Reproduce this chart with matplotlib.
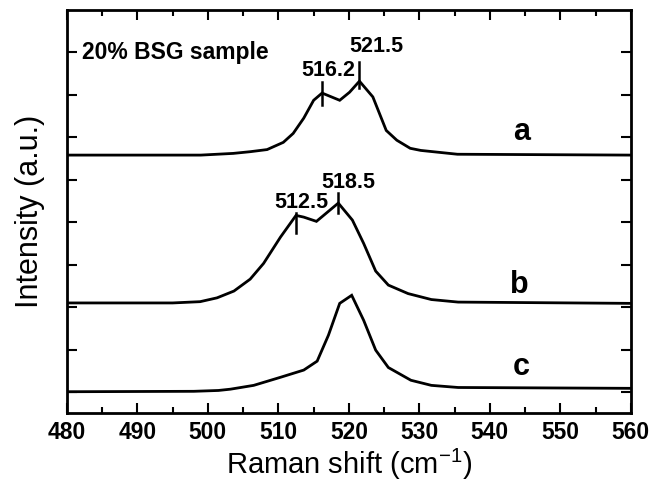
#!/usr/bin/env python3

"""
Raman spectra of the 20% BSG sample (curves a, b, c).
"""

import matplotlib
matplotlib.use("Agg")
import matplotlib.pyplot as plt
from matplotlib.ticker import MultipleLocator

# curve a (top)
shift_a = [480, 499.0, 503.6, 506.0, 508.4, 510.7, 512.1, 513.6, 515.0, 516.2,
           518.7, 520.1, 521.5, 523.4, 525.3, 526.8, 528.7, 530.2, 535.4, 560]
int_a = [5.58, 5.58, 5.62, 5.66, 5.71, 5.88, 6.09, 6.45, 6.87, 7.04,
         6.87, 7.06, 7.32, 6.95, 6.16, 5.93, 5.74, 5.69, 5.60, 5.58]

# curve b (middle)
shift_b = [480, 495.0, 498.9, 501.3, 503.7, 506.0, 507.9, 510.3, 512.5, 513.6,
           515.4, 518.5, 520.5, 522.1, 523.8, 525.6, 528.4, 531.7, 535.5, 560]
int_b = [2.10, 2.10, 2.13, 2.22, 2.38, 2.66, 3.03, 3.65, 4.16, 4.12,
         4.02, 4.45, 4.05, 3.50, 2.85, 2.52, 2.32, 2.18, 2.12, 2.09]

# curve c (bottom)
shift_c = [480, 498.0, 501.5, 503.2, 506.5, 510.3, 513.6, 515.5, 517.1, 518.7,
           520.4, 522.1, 523.8, 525.6, 528.8, 531.7, 535.5, 560]
int_c = [0.01, 0.02, 0.04, 0.07, 0.16, 0.35, 0.52, 0.73, 1.34, 2.09,
         2.28, 1.69, 0.99, 0.58, 0.28, 0.16, 0.11, 0.09]

# peak annotations: (position, marker bottom, marker top, label x, label y)
peak_pos = [516.2, 521.5, 512.5, 518.5]
peak_lo = [6.75, 7.15, 3.74, 4.21]
peak_hi = [7.29, 7.76, 4.21, 4.68]
peak_text_x = [517.1, 523.9, 513.2, 519.9]
peak_text_y = [7.58, 8.14, 4.47, 4.94]

curve_names = ["a", "b", "c"]
name_x = [544.5, 544.2, 544.5]
name_y = [6.12, 2.52, 0.59]


def main():
    plt.rcParams["font.family"] = ["Liberation Sans", "DejaVu Sans"]
    plt.rcParams["mathtext.fontset"] = "custom"
    plt.rcParams["mathtext.rm"] = "Liberation Sans"

    fig = plt.figure(figsize=(6.62, 4.87), dpi=100)
    ax = fig.add_axes([0.101, 0.152, 0.852, 0.827])

    for x, y in [(shift_a, int_a), (shift_b, int_b), (shift_c, int_c)]:
        ax.plot(x, y, color="black", linewidth=2.0, solid_joinstyle="miter")

    for p, lo, hi, tx, ty in zip(peak_pos, peak_lo, peak_hi, peak_text_x, peak_text_y):
        ax.plot([p, p], [lo, hi], color="black", linewidth=1.8)
        ax.text(tx, ty, f"{p:.1f}", fontsize=15.5, fontweight="bold",
                ha="center", va="center")

    for name, nx, ny in zip(curve_names, name_x, name_y):
        ax.text(nx, ny, name, fontsize=22, fontweight="bold",
                ha="center", va="center")

    ax.text(482.1, 8.0, "20% BSG sample", fontsize=16.5, fontweight="bold",
            ha="left", va="center")

    ax.set_xlim(480, 560)
    ax.set_ylim(-0.49, 8.99)
    ax.xaxis.set_major_locator(MultipleLocator(10))
    ax.xaxis.set_minor_locator(MultipleLocator(5))
    ax.yaxis.set_major_locator(MultipleLocator(1))
    ax.set_yticklabels([])
    ax.tick_params(which="both", direction="in", top=True, right=True, width=1.5)
    ax.tick_params(which="major", length=7, labelsize=16.5, pad=6)
    ax.tick_params(which="minor", length=4)
    for lab in ax.get_xticklabels():
        lab.set_fontweight("bold")
    for s in ax.spines.values():
        s.set_linewidth(2)

    ax.set_xlabel("Raman shift (cm$^{\\mathrm{-1}}$)", fontsize=21, labelpad=2)
    ax.set_ylabel("Intensity (a.u.)", fontsize=22, labelpad=10)

    fig.savefig("out.png", dpi=100)


if __name__ == "__main__":
    main()
